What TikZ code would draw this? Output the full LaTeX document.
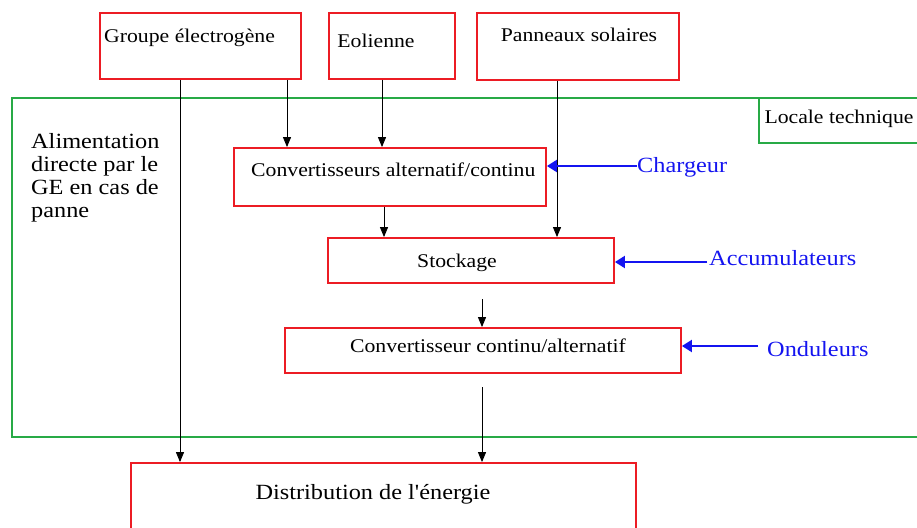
\documentclass[tikz,border=0pt]{standalone}
\usepackage{fontspec}
\setmainfont{Liberation Serif}[FakeStretch=1.12, Ligatures=TeXOff]
\usetikzlibrary{arrows.meta}
\definecolor{boxred}{RGB}{236,28,36}
\definecolor{lgreen}{RGB}{40,170,70}
\definecolor{lblue}{RGB}{20,20,240}
\begin{document}
\begin{tikzpicture}[x=1pt,y=-1pt,
 box/.style={draw=boxred, line width=1.8pt, rectangle, inner sep=0pt},
 gbox/.style={draw=lgreen, line width=1.6pt, rectangle, inner sep=0pt},
 txt/.style={inner sep=0pt, font=\fontsize{19.4}{23}\selectfont},
 big/.style={inner sep=0pt, font=\fontsize{21.7}{23}\selectfont},
 blab/.style={inner sep=0pt, font=\fontsize{21.7}{23}\selectfont, text=lblue, anchor=west},
 arr/.style={draw=black, line width=0.9pt, -{Triangle[width=8pt,length=10pt]}},
 barr/.style={draw=lblue, line width=2pt, -{Triangle[width=12pt,length=10pt]}},
]
\useasboundingbox (0,0) rectangle (917,527);
\fill[white] (0,0) rectangle (917,527);

% container
\node[gbox, minimum width=913pt, minimum height=339pt] (loc) at (468.5,267.5) {};
\node[gbox, minimum width=166pt, minimum height=45pt] (ltbox) at (842,120.5) {};
\node[txt] (tlt) at (839,119) {Locale technique};

% sources
\node[box, minimum width=201pt, minimum height=66pt] (ge) at (200.5,46) {};
\node[txt, anchor=west] (tge) at (104,38) {Groupe électrogène};
\node[box, minimum width=126pt, minimum height=66pt] (eol) at (392,46) {};
\node[txt] (teol) at (376,41) {Eolienne};
\node[box, minimum width=202pt, minimum height=67pt] (pan) at (578,46.5) {};
\node[txt] (tpan) at (579,35) {Panneaux solaires};

% converters
\node[box, minimum width=312pt, minimum height=58pt] (acdc) at (390,177) {};
\node[txt, anchor=west] (tacdc) at (251,170) {Convertisseurs alternatif/continu};
\node[box, minimum width=286pt, minimum height=45pt] (stock) at (471,260.5) {};
\node[txt] (tstock) at (457,262.5) {Stockage};
\node[box, minimum width=396pt, minimum height=45pt] (dcac) at (483,350.5) {};
\node[txt] (tdcac) at (488,346) {Convertisseur continu/alternatif};
\node[box, minimum width=505pt, minimum height=77pt] (dist) at (383.5,501.5) {};
\node[big] (tdist) at (373,494.5) {Distribution de l'énergie};

% side text
\node[big, anchor=north west, align=left] (talim) at (31,133)
  {Alimentation\\directe par le\\GE en cas de\\panne};

% blue labels
\node[blab] (tch) at (637,167) {Chargeur};
\node[blab] (tacc) at (709,258) {Accumulateurs};
\node[blab] (tond) at (767,349) {Onduleurs};

% black connectors
\coordinate (xa) at (180,0);
\coordinate (xb) at (287,0);
\coordinate (xc) at (382,0);
\coordinate (xd) at (557,0);
\coordinate (xe) at (384,0);
\coordinate (s1) at (482,299);
\coordinate (s2) at (482,387);
\draw[arr] (ge.south -| xa) -- (dist.north -| xa);
\draw[arr] (ge.south -| xb) -- (acdc.north -| xb);
\draw[arr] (eol.south -| xc) -- (acdc.north -| xc);
\draw[arr] (pan.south -| xd) -- (stock.north -| xd);
\draw[arr] (acdc.south -| xe) -- (stock.north -| xe);
\draw[arr] (s1) -- (dcac.north -| s1);
\draw[arr] (s2) -- (dist.north -| s2);

% blue connectors
\coordinate (ca) at (707,262);
\coordinate (co) at (758,346);
\coordinate (cc) at (637,166);
\draw[barr] (cc) -- (cc -| acdc.east);
\draw[barr] (ca) -- (ca -| stock.east);
\draw[barr] (co) -- (co -| dcac.east);
\end{tikzpicture}
\end{document}
